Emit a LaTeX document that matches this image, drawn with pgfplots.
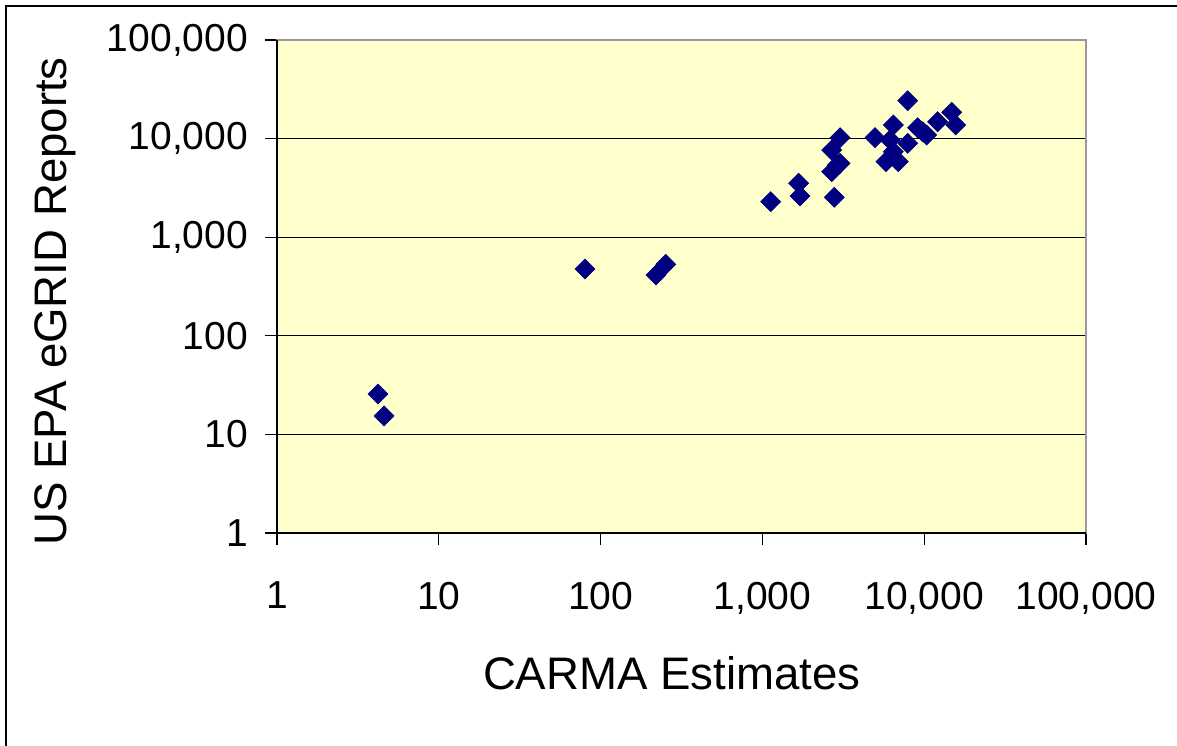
\documentclass[border=0pt]{standalone}
\usepackage{fontspec}
\setmainfont{Liberation Sans}
\usepackage{pgfplots}
\pgfplotsset{compat=1.18}
\definecolor{plotbg}{HTML}{FFFFCC}
\definecolor{navy}{HTML}{000080}
\begin{document}
\begin{tikzpicture}
\useasboundingbox (-138.5pt,-106pt) rectangle (450pt,266.5pt);
\draw[line width=1.2pt,black] (-135.5pt,-110pt) -- (-135.5pt,263.5pt) -- (455pt,263.5pt);
\begin{axis}[
  at={(0pt,0pt)}, anchor=south west,
  scale only axis,
  width=404.5pt, height=246.5pt,
  xmode=log, ymode=log,
  xmin=1, xmax=100000, ymin=1, ymax=100000,
  xtick={1,10,100,1000,10000,100000},
  xticklabels={1,10,100,{1,000},{10,000},{100,000}},
  ytick={1,10,100,1000,10000,100000},
  yticklabels={1,10,100,{1,000},{10,000},{100,000}},
  xminorticks=false, yminorticks=false,
  xtick pos=bottom, ytick pos=left,
  tick align=outside,
  major tick length=6pt,
  every tick/.style={black, line width=0.6pt},
  ymajorgrids,
  grid style={black, line width=0.5pt},
  axis line style={draw=gray!80, line width=0.6pt},
  axis background/.style={fill=plotbg},
  tick label style={font=\fontsize{19.5}{23}\selectfont},
  xticklabel style={yshift=-15pt},
  yticklabel style={xshift=-5pt},
  label style={font=\fontsize{22.8}{27}\selectfont},
  xlabel={CARMA Estimates},
  ylabel={US EPA eGRID Reports},
  xlabel style={at={(axis description cs:0.488,-0.284)}, anchor=center},
  ylabel style={at={(axis description cs:-0.274,0.47)}, anchor=center},
  clip=false,
]
\draw[black, line width=0.7pt] (rel axis cs:0,1) -- (rel axis cs:0,0) -- (rel axis cs:1,0);
\addplot[only marks, mark=square*, mark size=3.5pt,
  mark options={rotate=45, fill=navy, draw=navy}] table {
x y
4.21 25.7
4.59 15.4
80.1 476
220 414
253 531
1125 2291
1676 3523
1708 2618
2782 2540
2681 7660
3018 10210
2904 5400
2681 4616
3018 5616
4965 10210
6443 13740
6150 9680
7910 24230
7910 8960
6443 7365
5807 5834
6918 5834
9100 12900
9800 11700
10360 10870
12110 14840
14790 18480
15660 13740
};
\end{axis}
\end{tikzpicture}
\end{document}
